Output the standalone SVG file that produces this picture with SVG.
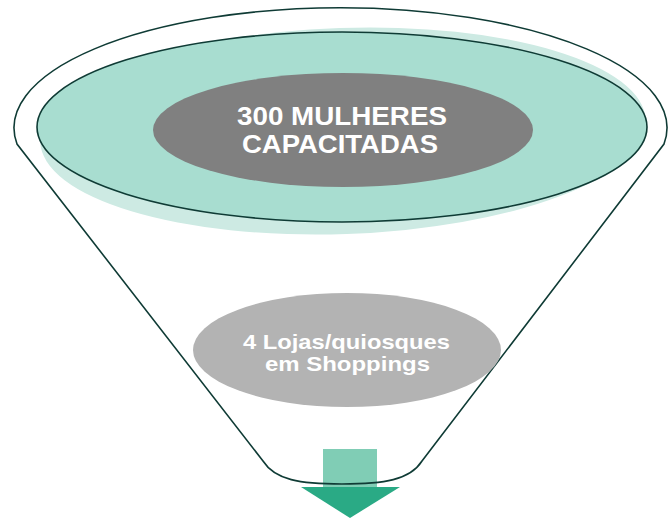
<svg xmlns="http://www.w3.org/2000/svg" width="668" height="519" viewBox="0 0 668 519">
  <style>
    .outline { fill: none; stroke: #0f3b35; stroke-width: 1.6; }
    .lbl { font-family: "Liberation Sans", Arial, sans-serif; font-weight: bold; fill: #ffffff; text-anchor: middle; }
  </style>
  <rect width="668" height="519" fill="#ffffff"/>
  <g id="arrow">
    <rect x="323" y="449" width="54" height="39" fill="#80cdb5"/>
    <polygon points="301,487 400,487 350,518" fill="#2aaa85"/>
  </g>
  <g id="connectors">
    <path id="funnel" class="outline" d="M 17 144 A 326.5 120 0 1 1 664 144 L 422 461 C 410 480, 384 484, 342 484 C 300 484, 275 480, 263 461 Z"/>
  </g>
  <g id="rim">
    <ellipse cx="343" cy="131" rx="303" ry="103" fill="#cdeae3" transform="rotate(-2 343 131)"/>
    <ellipse cx="342" cy="127" rx="305" ry="95" fill="#a8ddd0" stroke="#0f3b35" stroke-width="1.6"/>
  </g>
  <g id="node-mulheres">
    <ellipse cx="343" cy="130" rx="190" ry="57" fill="#808080"/>
    <text class="lbl" x="342" y="125" font-size="25" textLength="210" lengthAdjust="spacingAndGlyphs">300 MULHERES</text>
    <text class="lbl" x="340" y="153" font-size="25" textLength="196" lengthAdjust="spacingAndGlyphs">CAPACITADAS</text>
  </g>
  <g id="node-lojas">
    <ellipse cx="347" cy="350" rx="154" ry="57" fill="#b3b3b3"/>
    <text class="lbl" x="346.5" y="349" font-size="21" textLength="207" lengthAdjust="spacingAndGlyphs">4 Lojas/quiosques</text>
    <text class="lbl" x="347.5" y="370.5" font-size="21" textLength="165" lengthAdjust="spacingAndGlyphs">em Shoppings</text>
  </g>
</svg>
